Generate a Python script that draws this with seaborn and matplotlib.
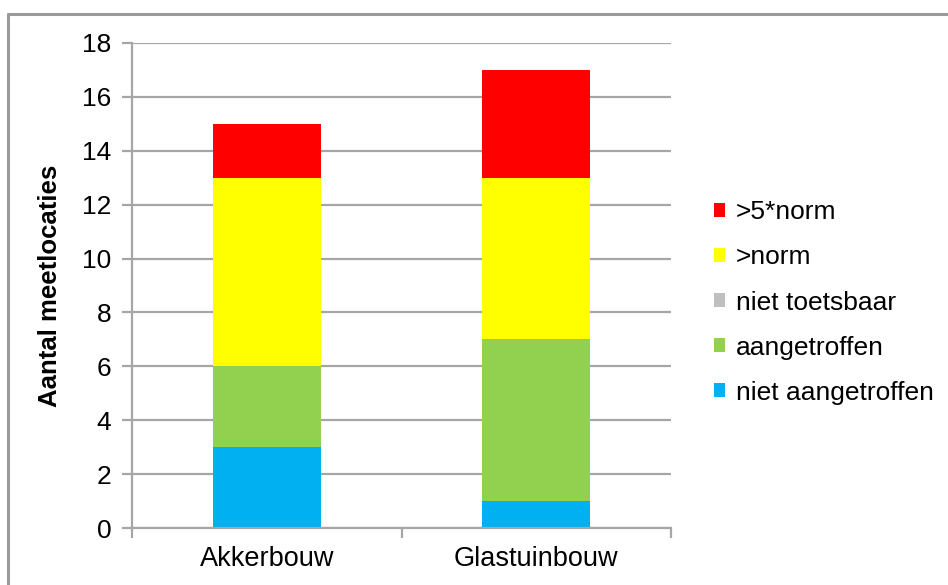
import matplotlib
matplotlib.use("Agg")
import matplotlib.pyplot as plt
from matplotlib.patches import Patch
from matplotlib.lines import Line2D
import numpy as np
import pandas as pd
import seaborn as sns

# Data
categories = ["Akkerbouw", "Glastuinbouw"]
series_names = ["niet aangetroffen", "aangetroffen", "niet toetsbaar", ">norm", ">5*norm"]
niet_aangetroffen = [3, 1]
aangetroffen = [3, 6]
niet_toetsbaar = [0, 0]
boven_norm = [7, 6]
boven_5norm = [2, 4]
y_ticks = [0, 2, 4, 6, 8, 10, 12, 14, 16, 18]

series_values = [niet_aangetroffen, aangetroffen, niet_toetsbaar, boven_norm, boven_5norm]
colors = ["#00B0F0", "#92D050", "#BFBFBF", "#FFFF00", "#FF0000"]

sns.set_theme(style="white")
plt.rcParams["font.family"] = ["Liberation Sans", "DejaVu Sans"]

W, H = 948, 585
fig = plt.figure(figsize=(W / 100, H / 100), dpi=100)
ax = fig.add_axes([132 / W, 1 - 528 / H, (671 - 132) / W, (528 - 43) / H])

# Stacked bars: draw cumulative totals from the top layer down
cum = np.cumsum(np.array(series_values), axis=0)
grid_col = "#A6A6A6"
ax.set_axisbelow(True)
for i in range(len(series_names) - 1, -1, -1):
    df = pd.DataFrame({"cat": categories, "val": cum[i]})
    sns.barplot(data=df, x="cat", y="val", color=colors[i], saturation=1,
                width=0.4, ax=ax, linewidth=0, zorder=2)

ax.set_ylim(0, 18)
ax.set_xlim(-0.5, 1.5)
ax.set_yticks(y_ticks)
ax.yaxis.grid(True, color=grid_col, linewidth=1.6, zorder=0)
ax.xaxis.grid(False)

for s in ["top", "right"]:
    ax.spines[s].set_visible(False)
for s in ["left", "bottom"]:
    ax.spines[s].set_color(grid_col)
    ax.spines[s].set_linewidth(1.6)

ax.tick_params(axis="y", which="major", length=7, width=1.6, color=grid_col,
               labelsize=19, pad=8, labelcolor="black", left=True)
ax.tick_params(axis="x", which="major", length=0, labelsize=19.5, pad=13,
               labelcolor="black")
ax.set_xticks([-0.5, 0.5, 1.5], minor=True)
ax.tick_params(axis="x", which="minor", length=7, width=1.6, color=grid_col,
               bottom=True)
ax.set_xlabel("")
ax.set_ylabel("Aantal meetlocaties", fontsize=18.5, fontweight="bold",
              color="black", labelpad=14)

# Legend, top layer first
handles = [Patch(facecolor=colors[i], edgecolor="none") for i in range(len(series_names) - 1, -1, -1)]
labels = [series_names[i] for i in range(len(series_names) - 1, -1, -1)]
fig.legend(handles, labels, loc="center left", bbox_to_anchor=(714 / W, 1 - 302.5 / H),
           frameon=False, fontsize=19, handlelength=0.42, handleheight=0.42,
           handletextpad=0.4, labelspacing=0.8, borderpad=0, borderaxespad=0,
           labelcolor="black")

# Outer chart border
fig.add_artist(Line2D([7.5 / W, 7.5 / W], [0, 1 - 13.5 / H], transform=fig.transFigure,
                      color="#9A9A9A", linewidth=2.2))
fig.add_artist(Line2D([7.5 / W, 1], [1 - 13.5 / H, 1 - 13.5 / H], transform=fig.transFigure,
                      color="#9A9A9A", linewidth=2.2))

fig.savefig("out.png", dpi=100)
